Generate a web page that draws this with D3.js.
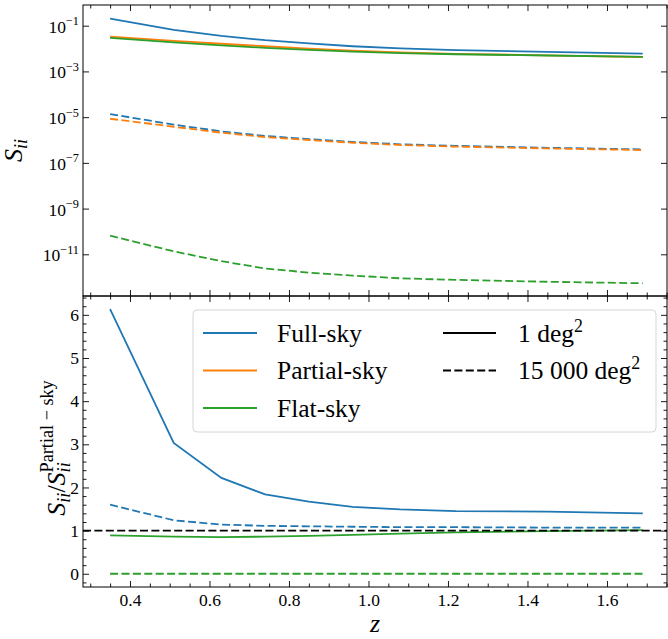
<!DOCTYPE html>
<html><head><meta charset="utf-8">
<script src="https://cdn.jsdelivr.net/npm/d3@7"></script>
<style>body{margin:0;background:#fff}</style></head>
<body><svg id="c" width="668" height="639"></svg>
<script>
// ---------- data ----------
const zValues = [0.35, 0.51, 0.63, 0.74, 0.85, 0.96, 1.08, 1.22, 1.45, 1.69];
// S_ii, 1 deg^2
const fullSky1    = [0.203, 0.0662, 0.0360, 0.0232, 0.0167, 0.0126, 0.0101, 0.00853, 0.00721, 0.00597];
const partialSky1 = [0.0331, 0.0219, 0.0162, 0.0126, 0.0100, 0.00813, 0.00676, 0.00589, 0.00501, 0.00427];
const flatSky1    = [0.0294, 0.0188, 0.0138, 0.0108, 0.00879, 0.00731, 0.00628, 0.00565, 0.00497, 0.00431];
// S_ii, 15 000 deg^2
const fullSky15000    = [1.36e-5, 4.71e-6, 2.38e-6, 1.50e-6, 1.10e-6, 8.26e-7, 6.50e-7, 5.53e-7, 4.56e-7, 3.88e-7];
const partialSky15000 = [8.51e-6, 3.80e-6, 2.09e-6, 1.35e-6, 1.00e-6, 7.59e-7, 6.03e-7, 5.13e-7, 4.27e-7, 3.63e-7];
const flatSky15000    = [6.5e-11, 1.35e-11, 5.0e-12, 2.4e-12, 1.58e-12, 1.17e-12, 8.9e-13, 7.6e-13, 6.3e-13, 5.4e-13];
// ratios to partial-sky
const ratioFull1      = [6.13, 3.03, 2.22, 1.84, 1.67, 1.55, 1.49, 1.45, 1.44, 1.40];
const ratioFlat1      = [0.89, 0.86, 0.85, 0.86, 0.88, 0.90, 0.93, 0.96, 0.99, 1.01];
const ratioFull15000  = [1.60, 1.24, 1.14, 1.11, 1.10, 1.09, 1.08, 1.08, 1.07, 1.07];
const ratioFlat15000  = [0.0, 0.0, 0.0, 0.0, 0.0, 0.0, 0.0, 0.0, 0.0, 0.0];
const referenceRatio = 1;

const xTicks = [0.4, 0.6, 0.8, 1.0, 1.2, 1.4, 1.6];
const logTickExponents = [-1, -3, -5, -7, -9, -11];
const ratioTicks = [0, 1, 2, 3, 4, 5, 6];
const seriesNames = ["Full-sky", "Partial-sky", "Flat-sky"];
const seriesColors = ["#1f77b4", "#ff7f0e", "#2ca02c"];
const areaLabels = ["1 deg", "15 000 deg"];

// ---------- layout ----------
const FONT = "'Liberation Serif', 'DejaVu Serif'";
const L = 83, R = 667, T1 = 5, B1 = 296, T2 = 296, B2 = 587;
const svg = d3.select("#c");
const x = d3.scaleLinear().domain([0.2818, 1.7510]).range([L, R]);
const y1 = d3.scaleLog().domain([Math.pow(10, -12.824), Math.pow(10, -0.0945)]).range([B1, T1]);
const y2 = d3.scaleLinear().domain([-0.3065, 6.4365]).range([B2, T2]);
const LW = 1.8, DASH = "8,3.4";
const TICK_FS = 17.5;

const xMinor = d3.range(0.30, 1.7501, 0.05).filter(v => xTicks.every(t => Math.abs(t - v) > 1e-6));
const yMinor2 = d3.range(-0.2, 6.41, 0.2).filter(v => ratioTicks.every(t => Math.abs(t - v) > 1e-6));

function styleAxis(g) {
  g.select(".domain").remove();
  g.attr("font-family", null).attr("font-size", null);
  g.selectAll(".tick line").attr("stroke", "#000").attr("stroke-width", 0.9);
  g.selectAll("text").style("font-family", FONT).style("font-size", TICK_FS + "px").attr("fill", "#000");
}
function ticksX(top, bottom, labels) {
  const ab = d3.axisBottom(x).tickValues(xTicks).tickSizeInner(-6).tickSizeOuter(0).tickPadding(6.5)
    .tickFormat(labels ? d3.format(".1f") : "");
  svg.append("g").attr("transform", `translate(0,${bottom})`).call(ab).call(styleAxis);
  svg.append("g").attr("transform", `translate(0,${bottom})`)
    .call(d3.axisBottom(x).tickValues(xMinor).tickSizeInner(-3.5).tickSizeOuter(0).tickFormat("")).call(styleAxis);
  svg.append("g").attr("transform", `translate(0,${top})`)
    .call(d3.axisTop(x).tickValues(xTicks).tickSizeInner(-6).tickSizeOuter(0).tickFormat("")).call(styleAxis);
  svg.append("g").attr("transform", `translate(0,${top})`)
    .call(d3.axisTop(x).tickValues(xMinor).tickSizeInner(-3.5).tickSizeOuter(0).tickFormat("")).call(styleAxis);
}
function txt(sel, fs) {
  return sel.append("text").style("font-family", FONT).style("font-size", fs + "px").attr("fill", "#000");
}

// ---------- top panel ----------
ticksX(T1, B1, false);
const logTickVals = logTickExponents.map(e => Math.pow(10, e));
svg.append("g").attr("transform", `translate(${L},0)`)
  .call(d3.axisLeft(y1).tickValues(logTickVals).tickSizeInner(-6).tickSizeOuter(0).tickFormat("")).call(styleAxis);
svg.append("g").attr("transform", `translate(${R},0)`)
  .call(d3.axisRight(y1).tickValues(logTickVals).tickSizeInner(-6).tickSizeOuter(0).tickFormat("")).call(styleAxis);
logTickExponents.forEach(e => {
  const t = txt(svg, TICK_FS).attr("x", L - 4).attr("y", y1(Math.pow(10, e)) + 7).attr("text-anchor", "end");
  t.append("tspan").text("10");
  t.append("tspan").attr("dy", -7.5).style("font-size", (TICK_FS * 0.7) + "px").text("\u2212" + Math.abs(e));
});

const line1 = d3.line().x(d => x(d[0])).y(d => y1(d[1]));
const topSeries = [
  [fullSky1, 0, false], [partialSky1, 1, false], [flatSky1, 2, false],
  [fullSky15000, 0, true], [partialSky15000, 1, true], [flatSky15000, 2, true]
];
topSeries.forEach(([vals, ci, dashed]) => {
  svg.append("path").datum(zValues.map((z, i) => [z, vals[i]]))
    .attr("d", line1).attr("fill", "none").attr("stroke", seriesColors[ci])
    .attr("stroke-width", LW).attr("stroke-dasharray", dashed ? DASH : null);
});

// ---------- bottom panel ----------
ticksX(T2, B2, true);
svg.append("g").attr("transform", `translate(${L},0)`)
  .call(d3.axisLeft(y2).tickValues(ratioTicks).tickSizeInner(-6).tickSizeOuter(0).tickPadding(4).tickFormat(d3.format("d"))).call(styleAxis);
svg.append("g").attr("transform", `translate(${L},0)`)
  .call(d3.axisLeft(y2).tickValues(yMinor2).tickSizeInner(-3.5).tickSizeOuter(0).tickFormat("")).call(styleAxis);
svg.append("g").attr("transform", `translate(${R},0)`)
  .call(d3.axisRight(y2).tickValues(ratioTicks).tickSizeInner(-6).tickSizeOuter(0).tickFormat("")).call(styleAxis);
svg.append("g").attr("transform", `translate(${R},0)`)
  .call(d3.axisRight(y2).tickValues(yMinor2).tickSizeInner(-3.5).tickSizeOuter(0).tickFormat("")).call(styleAxis);

const line2 = d3.line().x(d => x(d[0])).y(d => y2(d[1]));
const botSeries = [
  [ratioFull1, 0, false], [ratioFlat1, 2, false],
  [ratioFull15000, 0, true], [ratioFlat15000, 2, true]
];
botSeries.forEach(([vals, ci, dashed]) => {
  svg.append("path").datum(zValues.map((z, i) => [z, vals[i]]))
    .attr("d", line2).attr("fill", "none").attr("stroke", seriesColors[ci])
    .attr("stroke-width", LW).attr("stroke-dasharray", dashed ? DASH : null);
});
svg.append("line").attr("x1", L).attr("x2", R).attr("y1", y2(referenceRatio)).attr("y2", y2(referenceRatio))
  .attr("stroke", "#000").attr("stroke-width", LW).attr("stroke-dasharray", DASH);

// frames
[[T1, B1], [T2, B2]].forEach(([t, b]) => {
  svg.append("rect").attr("x", L).attr("y", t).attr("width", R - L).attr("height", b - t)
    .attr("fill", "none").attr("stroke", "#000").attr("stroke-width", 1);
});

// ---------- legend ----------
const lg = svg.append("g");
lg.append("rect").attr("x", 193).attr("y", 310).attr("width", 463).attr("height", 122)
  .attr("rx", 4).attr("fill", "#fff").attr("fill-opacity", 0.8).attr("stroke", "#d6d6d6").attr("stroke-width", 1);
const LEG_FS = 25.5;
const rowY = [333, 370.5, 408];
seriesNames.forEach((n, i) => {
  lg.append("line").attr("x1", 203).attr("x2", 257).attr("y1", rowY[i]).attr("y2", rowY[i])
    .attr("stroke", seriesColors[i]).attr("stroke-width", LW);
  txt(lg, LEG_FS).attr("x", 277).attr("y", rowY[i] + 8.5).text(n);
});
areaLabels.forEach((n, i) => {
  lg.append("line").attr("x1", 443).attr("x2", 496).attr("y1", rowY[i]).attr("y2", rowY[i])
    .attr("stroke", "#000").attr("stroke-width", LW).attr("stroke-dasharray", i === 1 ? DASH : null);
  const t = txt(lg, LEG_FS).attr("x", 518).attr("y", rowY[i] + 8.5);
  t.append("tspan").text(n);
  t.append("tspan").attr("dy", -10).style("font-size", (LEG_FS * 0.7) + "px").text("2");
});

// ---------- axis labels ----------
txt(svg, 26).attr("x", (L + R) / 2).attr("y", 632).attr("text-anchor", "middle")
  .style("font-style", "italic").text("z");

const LAB_FS = 26;
const SUB_FS = LAB_FS * 0.7;
const tl = txt(svg, LAB_FS).attr("transform", `translate(22,${(T1 + B1) / 2}) rotate(-90)`).attr("text-anchor", "middle");
tl.append("tspan").style("font-style", "italic").text("S");
tl.append("tspan").style("font-style", "italic").style("font-size", SUB_FS + "px").attr("dy", 5).text("ii");

const bl = txt(svg, LAB_FS).attr("transform", `translate(65,448) rotate(-90)`).attr("text-anchor", "middle");
bl.append("tspan").style("font-style", "italic").text("S");
bl.append("tspan").style("font-style", "italic").style("font-size", SUB_FS + "px").attr("dy", 5).text("ii");
bl.append("tspan").attr("dy", -5).text("/");
bl.append("tspan").style("font-style", "italic").text("S");
const sub = bl.append("tspan").style("font-style", "italic").style("font-size", SUB_FS + "px").attr("dy", 5).text("ii");
const subW = sub.node().getComputedTextLength();
bl.append("tspan").style("font-size", SUB_FS + "px").attr("dx", -subW).attr("dy", -17).text("Partial \u2212 sky");
</script>
</body></html>
